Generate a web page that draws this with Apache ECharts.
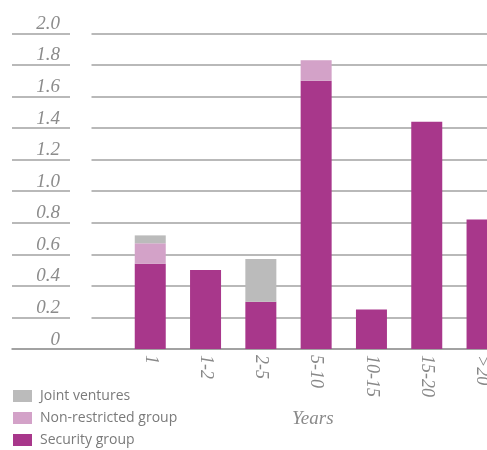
<!DOCTYPE html>
<html>
<head>
<meta charset="utf-8">
<style>
  html, body { margin: 0; padding: 0; background: #fff; }
  #chart { width: 487px; height: 450px; }
</style>
<script src="https://cdn.jsdelivr.net/npm/echarts@6/dist/echarts.min.js"></script>
</head>
<body>
<div id="chart"></div>
<script>
// Maturity buckets (years) and amounts per group
const years = ['1', '1-2', '2-5', '5-10', '10-15', '15-20', '>20'];
const securityGroup = [0.54, 0.50, 0.30, 1.70, 0.25, 1.44, 0.82];
const nonRestrictedGroup = [0.13, 0, 0, 0.13, 0, 0, 0];
const jointVentures = [0.05, 0, 0.27, 0, 0, 0, 0];
const yTicks = ['0', '0.2', '0.4', '0.6', '0.8', '1.0', '1.2', '1.4', '1.6', '1.8', '2.0'];

// two empty leading bands leave room for the value labels on the left
const padBands = 2;
const axisCategories = Array(padBands).fill('').concat(years);
const pad = (arr) => Array(padBands).fill(null).concat(arr.map(v => v === 0 ? null : v));

const colors = {
  security: '#a8378b',
  nonRestricted: '#d3a2c8',
  joint: '#bbbbbb'
};
const serif = 'Liberation Serif';

const chart = echarts.init(document.getElementById('chart'));
const gridLeft = 12, gridTop = 33.4, gridBottom = 349;

chart.setOption({
  animation: false,
  grid: {
    left: gridLeft, top: gridTop, width: 9 * 55.3, height: gridBottom - gridTop,
    outerBoundsMode: 'none', containLabel: false
  },
  xAxis: {
    type: 'category',
    data: axisCategories,
    axisLine: { lineStyle: { color: '#9a9a9a', width: 1.6 } },
    axisTick: { show: false },
    axisLabel: {
      rotate: -90,
      margin: 6,
      interval: 0,
      fontFamily: serif,
      fontStyle: 'italic',
      fontSize: 18,
      color: '#888888'
    }
  },
  yAxis: {
    type: 'value',
    min: 0,
    max: 2,
    interval: 0.2,
    offset: -48,
    axisLine: { show: false },
    axisTick: { show: false },
    splitLine: { lineStyle: { color: '#a2a2a2', width: 1.6 } },
    axisLabel: {
      margin: 0,
      verticalAlign: 'bottom',
      padding: [0, 0, 0, 0],
      fontFamily: serif,
      fontStyle: 'italic',
      fontSize: 19,
      color: '#8c8c8c',
      formatter: (v) => yTicks[Math.round(v / 0.2)]
    }
  },
  legend: {
    orient: 'vertical',
    left: 13,
    top: 389,
    height: 61,
    padding: 0,
    itemWidth: 19,
    itemHeight: 12,
    itemGap: 8,
    icon: 'rect',
    data: ['Joint ventures', 'Non-restricted group', 'Security group'],
    textStyle: {
      fontFamily: 'Open Sans', fontSize: 14, lineHeight: 14,
      color: '#7a7a7a', padding: [0, 0, 0, 3]
    }
  },
  graphic: [
    {
      // break in the gridlines between the value labels and the plot
      type: 'rect',
      z: 1,
      shape: { x: 70, y: 25, width: 21.5, height: gridBottom - 27 },
      style: { fill: '#ffffff' }
    },
    {
      type: 'text',
      left: 292,
      top: 409,
      style: {
        text: 'Years',
        fontFamily: serif,
        fontStyle: 'italic',
        fontSize: 19,
        fill: '#8a8a8a'
      }
    }
  ],
  series: [
    {
      name: 'Security group',
      type: 'bar',
      stack: 'total',
      barWidth: 31,
      z: 3,
      itemStyle: { color: colors.security },
      data: pad(securityGroup)
    },
    {
      name: 'Non-restricted group',
      type: 'bar',
      stack: 'total',
      barWidth: 31,
      z: 3,
      itemStyle: { color: colors.nonRestricted },
      data: pad(nonRestrictedGroup)
    },
    {
      name: 'Joint ventures',
      type: 'bar',
      stack: 'total',
      barWidth: 31,
      z: 3,
      itemStyle: { color: colors.joint },
      data: pad(jointVentures)
    }
  ]
});
</script>
</body>
</html>
